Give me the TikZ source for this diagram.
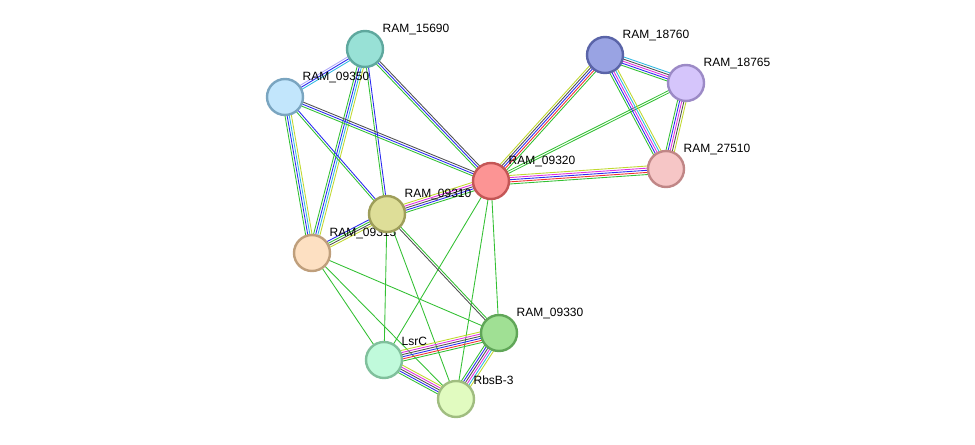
\documentclass[tikz,border=0pt]{standalone}
\usepackage{fontspec}
\setmainfont{Liberation Sans}
\usetikzlibrary{calc}
\definecolor{eg}{HTML}{33C033}
\definecolor{eb}{HTML}{2A2AF0}
\definecolor{ek}{HTML}{505050}
\definecolor{ey}{HTML}{C0D830}
\definecolor{ec}{HTML}{30B8E0}
\definecolor{em}{HTML}{E030E0}
\definecolor{er}{HTML}{F03030}
\definecolor{el}{HTML}{B0A8F8}
\newcommand{\medge}[3]{%
  \foreach \c [count=\i] in {#3} {\xdef\nn{\i}}%
  \foreach \c [count=\i] in {#3} {
    \pgfmathsetmacro{\off}{(\i-(\nn+1)/2)*1.6}
    \draw[\c, line width=0.65pt] ($(#1)!\off pt!90:(#2)$) -- ($(#2)!\off pt!-90:(#1)$);
  }}
\tikzset{
  prot/.style={circle, minimum size=27pt, line width=1.8pt, inner sep=0pt},
  lab/.style={font=\fontsize{9}{10}\selectfont, anchor=south west, inner sep=1pt}
}
\begin{document}
\begin{tikzpicture}[x=0.75pt,y=-0.75pt]
\useasboundingbox (0,0) rectangle (975,445);
\coordinate (a15690) at (365,49);
\coordinate (a09350) at (285,97);
\coordinate (a18760) at (605,55);
\coordinate (a18765) at (686,83);
\coordinate (a27510) at (666,169);
\coordinate (a09320) at (491,181);
\coordinate (a09310) at (387,214);
\coordinate (a09315) at (312,253);
\coordinate (a09330) at (499,333);
\coordinate (alsrc) at (384,360);
\coordinate (arbsb) at (456,399);
% edges
\medge{a15690}{a09350}{el,eb,ec}
\medge{a15690}{a09320}{eg,eb,ek}
\medge{a15690}{a09310}{eg,eb}
\medge{a15690}{a09315}{eg,eb,ec,ey}
\medge{a09350}{a09320}{eg,eb,ek}
\medge{a09350}{a09310}{eg,eb}
\medge{a09350}{a09315}{eg,eb,ec,ey}
\medge{a09315}{a09310}{ey,ek,eg,eb}
\medge{a09310}{a09320}{eg,eb,ek,em,ey}
\medge{a09320}{a18760}{eg,er,eb,ek,ey}
\medge{a09320}{a18765}{eg,eg}
\medge{a09320}{a27510}{eg,er,eb,em,ey}
\medge{a18760}{a18765}{eg,eb,em,ek,ec}
\medge{a18760}{a27510}{eg,eb,em,ec,ey}
\medge{a18765}{a27510}{eg,eb,em,ek,ey}
\medge{a09320}{alsrc}{eg}
\medge{a09320}{arbsb}{eg}
\medge{a09320}{a09330}{eg}
\medge{a09310}{a09330}{ek,eg}
\medge{a09310}{alsrc}{eg}
\medge{a09310}{arbsb}{eg}
\medge{a09315}{a09330}{eg}
\medge{a09315}{alsrc}{eg}
\medge{a09315}{arbsb}{eg}
\medge{alsrc}{a09330}{eg,er,eb,ek,em,ey}
\medge{alsrc}{arbsb}{eg,eb,ek,em,ey}
\medge{a09330}{arbsb}{eg,eb,ek,em,ec,ey}
% nodes
\node[prot, fill={rgb,255:red,152;green,225;blue,214}, draw={rgb,255:red,95;green,168;blue,158}] (n15690) at (a15690) {};
\node[lab] (l15690) at ($(a15690)+(16,-13)$) {RAM\_15690};
\node[prot, fill={rgb,255:red,194;green,230;blue,252}, draw={rgb,255:red,122;green,165;blue,192}] (n09350) at (a09350) {};
\node[lab] (l09350) at ($(a09350)+(16,-13)$) {RAM\_09350};
\node[prot, fill={rgb,255:red,153;green,163;blue,227}, draw={rgb,255:red,90;green,100;blue,168}] (n18760) at (a18760) {};
\node[lab] (l18760) at ($(a18760)+(16,-13)$) {RAM\_18760};
\node[prot, fill={rgb,255:red,213;green,197;blue,251}, draw={rgb,255:red,156;green,138;blue,198}] (n18765) at (a18765) {};
\node[lab] (l18765) at ($(a18765)+(16,-13)$) {RAM\_18765};
\node[prot, fill={rgb,255:red,246;green,198;blue,198}, draw={rgb,255:red,192;green,134;blue,134}] (n27510) at (a27510) {};
\node[lab] (l27510) at ($(a27510)+(16,-13)$) {RAM\_27510};
\node[prot, fill={rgb,255:red,252;green,148;blue,148}, draw={rgb,255:red,196;green,86;blue,86}] (n09320) at (a09320) {};
\node[lab] (l09320) at ($(a09320)+(16,-13)$) {RAM\_09320};
\node[prot, fill={rgb,255:red,253;green,224;blue,194}, draw={rgb,255:red,191;green,159;blue,124}] (n09315) at (a09315) {};
\node[lab] (l09315) at ($(a09315)+(16,-13)$) {RAM\_09315};
\node[prot, fill={rgb,255:red,222;green,222;blue,152}, draw={rgb,255:red,158;green,158;blue,90}] (n09310) at (a09310) {};
\node[lab] (l09310) at ($(a09310)+(16,-13)$) {RAM\_09310};
\node[prot, fill={rgb,255:red,160;green,224;blue,148}, draw={rgb,255:red,96;green,166;blue,88}] (n09330) at (a09330) {};
\node[lab] (l09330) at ($(a09330)+(16,-13)$) {RAM\_09330};
\node[prot, fill={rgb,255:red,192;green,250;blue,219}, draw={rgb,255:red,128;green,192;blue,156}] (nlsrc) at (alsrc) {};
\node[lab] (llsrc) at ($(alsrc)+(16,-13)$) {LsrC};
\node[prot, fill={rgb,255:red,225;green,251;blue,192}, draw={rgb,255:red,160;green,189;blue,128}] (nrbsb) at (arbsb) {};
\node[lab] (lrbsb) at ($(arbsb)+(16,-13)$) {RbsB-3};
\end{tikzpicture}
\end{document}
